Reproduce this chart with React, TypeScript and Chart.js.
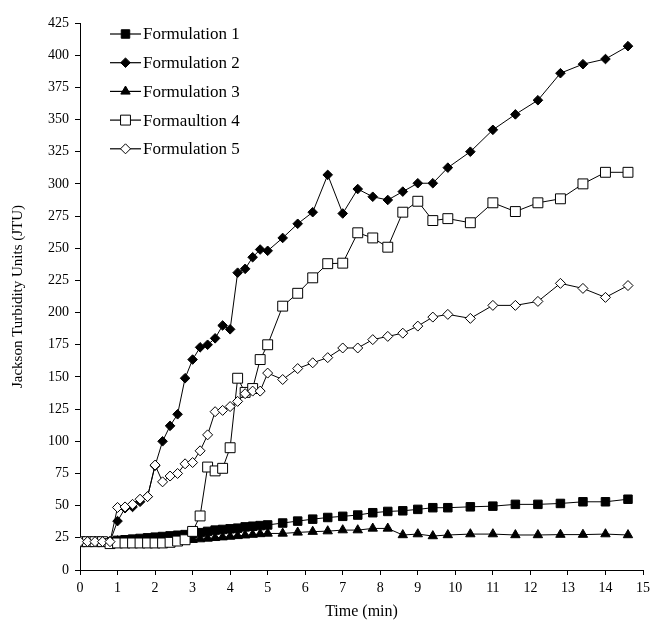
import { useEffect, useRef } from "react";
import { Chart, registerables } from "chart.js";

Chart.register(...registerables);

const times = [
  0, 0.2, 0.4, 0.6, 0.8, 1, 1.2, 1.4, 1.6, 1.8, 2, 2.2, 2.4, 2.6, 2.8, 3, 3.2, 3.4, 3.6, 3.8,
  4, 4.2, 4.4, 4.6, 4.8, 5, 5.4, 5.8, 6.2, 6.6, 7, 7.4, 7.8, 8.2, 8.6, 9, 9.4, 9.8,
  10.4, 11, 11.6, 12.2, 12.8, 13.4, 14, 14.6,
];

const formulation1 = [
  22, 22, 22, 22, 22, 23, 23.5, 24, 24.5, 25, 25.5, 26, 26.5, 27, 27.5, 28, 29, 30, 31, 31.5,
  32, 32.5, 33.5, 34, 34.5, 35, 36.5, 38, 39.5, 40.8, 41.7, 42.7, 44.5, 45.5, 46, 47.1, 48.4, 48.4,
  49.1, 49.6, 51, 51, 51.7, 53, 53, 55,
];

const formulation2 = [
  22, 22, 22, 22, 22, 38, 48, 49, 53, 57, 81, 100, 112, 121, 149, 163.5, 173, 175, 180, 190,
  187, 231, 234, 243, 249, 248, 258, 269, 278, 307, 277, 296, 290, 287.5, 294, 300.5, 300.5, 312.6,
  325, 342, 354, 365, 386, 393, 397, 407,
];

const formulation3 = [
  22, 22, 22, 22, 22, 22.5, 22.5, 22.5, 22.5, 22.5, 23, 23, 23, 23, 23, 23.5, 24, 24.5, 25, 25.5,
  26, 26.5, 27, 27.5, 28, 28.4, 28.4, 29.2, 29.8, 30.2, 31, 31, 32.3, 32.3, 27.2, 27.9, 26.4, 27.2,
  27.9, 27.9, 27.2, 27.2, 27.5, 27.5, 27.9, 27.2,
];

const formulation4 = [
  22, 22, 22, 22, 20.5, 21, 21, 21, 21, 21, 21, 21, 21.5, 22.5, 23.5, 30, 42, 80, 77, 79,
  95, 149, 138, 141, 163.5, 175, 205, 215, 227, 238, 238.4, 262, 258, 250.8, 278, 286.5, 271.5, 273,
  269.8, 285.3, 278.5, 285.3, 288.4, 300, 309, 309,
];

const formulation5 = [
  22, 22, 22, 22, 22, 48.6, 49, 51, 55, 57, 81.5, 68.5, 73, 75, 82.5, 83.5, 92.6, 105, 123, 124,
  127, 131, 137, 139, 139, 153, 148, 156.5, 161, 165, 172.5, 172.5, 179, 181.5, 184, 189.5, 196.5, 198.6,
  195.5, 205.6, 205.6, 208.7, 222.7, 218.8, 211.8, 221,
];

const seriesNames = ["Formulation 1", "Formulation 2", "Formulation 3", "Formaultion 4", "Formulation 5"];
const seriesValues = [formulation1, formulation2, formulation3, formulation4, formulation5];

const xAxisTitle = "Time (min)";
const yAxisTitle = "Jackson Turbidity Units (JTU)";

const FONT = "'Liberation Serif', 'Times New Roman', serif";

type MarkerStyle = { shape: "rect" | "rectRot" | "triangle"; radius: number; fill: string };

const markerStyles: MarkerStyle[] = [
  { shape: "rect", radius: 6, fill: "#000" },
  { shape: "rectRot", radius: 4.8, fill: "#000" },
  { shape: "triangle", radius: 5.4, fill: "#000" },
  { shape: "rect", radius: 7, fill: "#fff" },
  { shape: "rectRot", radius: 5, fill: "#fff" },
];

function drawMarker(ctx: CanvasRenderingContext2D, x: number, y: number, m: MarkerStyle) {
  ctx.beginPath();
  const r = m.radius;
  if (m.shape === "rect") {
    const s = Math.SQRT1_2 * r;
    ctx.rect(x - s, y - s, 2 * s, 2 * s);
  } else if (m.shape === "rectRot") {
    ctx.moveTo(x - r, y);
    ctx.lineTo(x, y - r);
    ctx.lineTo(x + r, y);
    ctx.lineTo(x, y + r);
    ctx.closePath();
  } else {
    let a = 0;
    ctx.moveTo(x + Math.sin(a) * r, y - Math.cos(a) * r);
    a += (2 * Math.PI) / 3;
    ctx.lineTo(x + Math.sin(a) * r, y - Math.cos(a) * r);
    a += (2 * Math.PI) / 3;
    ctx.lineTo(x + Math.sin(a) * r, y - Math.cos(a) * r);
    ctx.closePath();
  }
  ctx.fillStyle = m.fill;
  ctx.fill();
  ctx.lineWidth = 1;
  ctx.strokeStyle = "#000";
  ctx.stroke();
}

export default function App() {
  const ref = useRef<HTMLCanvasElement>(null);

  useEffect(() => {
    document.body.style.margin = "0";
    const canvas = ref.current;
    if (!canvas) return;

    const datasets = seriesValues.map((vals, i) => ({
      label: seriesNames[i],
      data: times.map((t, j) => ({ x: t, y: vals[j] })),
      borderColor: "#000",
      borderWidth: 1,
      pointStyle: markerStyles[i].shape,
      pointRadius: markerStyles[i].radius,
      pointBackgroundColor: markerStyles[i].fill,
      pointBorderColor: "#000",
      pointBorderWidth: 1,
      tension: 0,
      fill: false,
      order: 5 - i,
    }));

    const legendPlugin = {
      id: "lineLegend",
      afterDraw(chart: any) {
        const ctx: CanvasRenderingContext2D = chart.ctx;
        ctx.save();
        seriesNames.forEach((name, i) => {
          const y = 34 + i * 28.7;
          ctx.beginPath();
          ctx.moveTo(110, y);
          ctx.lineTo(141, y);
          ctx.lineWidth = 1.2;
          ctx.strokeStyle = "#000";
          ctx.stroke();
          drawMarker(ctx, 125.5, y, markerStyles[i]);
          ctx.fillStyle = "#000";
          ctx.font = `17px ${FONT}`;
          ctx.textBaseline = "middle";
          ctx.textAlign = "left";
          ctx.fillText(name, 143, y + 1);
        });
        ctx.restore();
      },
    };

    const chart = new Chart(canvas, {
      type: "line",
      data: { datasets: datasets as any },
      options: {
        animation: false,
        responsive: false,
        layout: { padding: { left: 0, right: 8, top: 23, bottom: 0 } },
        plugins: { legend: { display: false }, tooltip: { enabled: false } },
        scales: {
          x: {
            type: "linear",
            min: 0,
            max: 15,
            ticks: { stepSize: 1, color: "#000", font: { family: FONT, size: 14 }, padding: 5, maxRotation: 0 },
            grid: { drawOnChartArea: false, drawTicks: true, tickLength: 5, color: "#000", lineWidth: 1 },
            border: { display: true, color: "#000", width: 1 },
            title: { display: true, text: xAxisTitle, color: "#000", font: { family: FONT, size: 16 }, padding: { top: 0, bottom: 7 } },
            afterFit(scale: any) {
              scale.height = 58;
            },
          },
          y: {
            type: "linear",
            min: 0,
            max: 425,
            ticks: { stepSize: 25, color: "#000", font: { family: FONT, size: 14 }, padding: 6 },
            grid: { drawOnChartArea: false, drawTicks: true, tickLength: 5, color: "#000", lineWidth: 1 },
            border: { display: true, color: "#000", width: 1 },
            title: { display: true, text: yAxisTitle, color: "#000", font: { family: FONT, size: 15 }, padding: { top: 9, bottom: 0 } },
            afterFit(scale: any) {
              scale.width = 80;
            },
          },
        },
      },
      plugins: [legendPlugin],
    });

    return () => chart.destroy();
  }, []);

  return <canvas ref={ref} width={655} height={628} style={{ display: "block", width: 655, height: 628 }} />;
}
